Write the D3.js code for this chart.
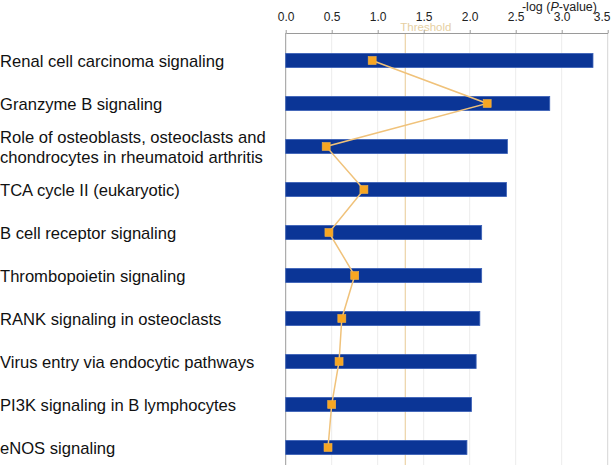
<!DOCTYPE html>
<html><head><meta charset="utf-8">
<script src="https://cdn.jsdelivr.net/npm/d3@7"></script>
<style>body{margin:0;background:#fff}svg{display:block}</style>
</head><body>
<svg id="c" width="612" height="465"></svg>
<script>
const categories = [
  ["Renal cell carcinoma signaling"],
  ["Granzyme B signaling"],
  ["Role of osteoblasts, osteoclasts and", "chondrocytes in rheumatoid arthritis"],
  ["TCA cycle II (eukaryotic)"],
  ["B cell receptor signaling"],
  ["Thrombopoietin signaling"],
  ["RANK signaling in osteoclasts"],
  ["Virus entry via endocytic pathways"],
  ["PI3K signaling in B lymphocytes"],
  ["eNOS signaling"]
];
const logP = [3.34, 2.87, 2.41, 2.40, 2.13, 2.13, 2.11, 2.07, 2.02, 1.97];
const ratio = [0.94, 2.19, 0.44, 0.85, 0.47, 0.75, 0.61, 0.58, 0.50, 0.46];
const ticks = [0, 0.5, 1.0, 1.5, 2.0, 2.5, 3.0, 3.5];
const threshold = 1.3;

(function () {
const svg = d3.select("#c");
const x = d3.scaleLinear().domain([0, 3.5]).range([285.7, 607.7]);
const y = d3.scaleBand().domain(d3.range(categories.length)).range([39, 469]).paddingInner(0.67).paddingOuter(0.335);
const yTop = 33, yBot = 465;
const font = "Liberation Sans, Arial, sans-serif";

// gridlines
svg.append("g").selectAll("line").data(ticks.slice(1, -1)).join("line")
  .attr("x1", d => x(d)).attr("x2", d => x(d)).attr("y1", yTop).attr("y2", yBot)
  .attr("stroke", "#ececec").attr("stroke-width", 1);
// right border
svg.append("line").attr("x1", x(3.5)).attr("x2", x(3.5)).attr("y1", yTop).attr("y2", yBot)
  .attr("stroke", "#d6d6d6");
// threshold
svg.append("line").attr("x1", x(threshold)).attr("x2", x(threshold)).attr("y1", yTop).attr("y2", yBot)
  .attr("stroke", "#ecd3a6").attr("stroke-width", 1.2);
svg.append("text").attr("x", x(threshold) - 5).attr("y", 31).attr("font-family", font)
  .attr("font-size", 11.5).attr("fill", "#e6cfa2").text("Threshold");

// axis
const axis = d3.axisTop(x).tickValues(ticks).tickFormat(d3.format(".1f")).tickSize(3).tickSizeOuter(0);
const ag = svg.append("g").attr("transform", `translate(0,${yTop})`).call(axis);
ag.select(".domain").attr("stroke", "#9a9a9a");
ag.selectAll(".tick line").attr("stroke", "#9a9a9a");
ag.selectAll(".tick text").attr("font-family", font).attr("font-size", 12)
  .attr("fill", "#222").attr("y", -12).attr("dy", 0)
  .attr("dx", d => d === 3.5 ? -6 : 0);
// left axis line
svg.append("line").attr("x1", x(0)).attr("x2", x(0)).attr("y1", yTop).attr("y2", yBot).attr("stroke", "#9a9a9a");

// axis title
const t = svg.append("text").attr("x", 597).attr("y", 10.5).attr("text-anchor", "end")
  .attr("font-family", font).attr("font-size", 12.5).attr("fill", "#222");
t.append("tspan").text("-log (");
t.append("tspan").attr("font-style", "italic").text("P");
t.append("tspan").text("-value)");

// bars
svg.append("g").selectAll("rect").data(logP).join("rect")
  .attr("x", x(0)).attr("y", (d, i) => y(i)).attr("width", d => x(d) - x(0)).attr("height", y.bandwidth())
  .attr("fill", "#0b3596").attr("stroke", "#3d63b8").attr("stroke-width", 0.8);

// labels
const lg = svg.append("g").attr("font-family", font).attr("font-size", 16.6).attr("fill", "#111");
categories.forEach((lines, i) => {
  const cy = y(i) + y.bandwidth() / 2 + 1;
  const n = lines.length;
  lines.forEach((s, k) => {
    lg.append("text").attr("x", 0).attr("y", cy + (k - (n - 1) / 2) * 20).attr("dy", "0.35em").text(s);
  });
});

// ratio line
const line = d3.line().x(d => x(d)).y((d, i) => y(i) + y.bandwidth() / 2);
svg.append("path").datum(ratio).attr("d", line).attr("fill", "none").attr("stroke", "#f0c27a").attr("stroke-width", 1.5);
svg.append("g").selectAll("rect").data(ratio).join("rect")
  .attr("x", d => x(d) - 4).attr("y", (d, i) => y(i) + y.bandwidth() / 2 - 4).attr("width", 8).attr("height", 8)
  .attr("fill", "#f7a623").attr("stroke", "#f0b24a").attr("stroke-width", 0.6);
})();
</script>
</body></html>
